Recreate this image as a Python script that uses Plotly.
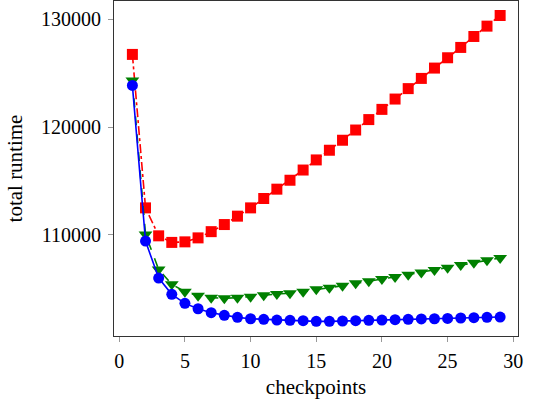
import plotly.graph_objects as go

checkpoints = list(range(1, 30))

red_vals = [126750, 112480, 109880, 109270, 109320, 109690, 110270, 110930, 111710, 112480,
            113350, 114220, 115050, 116000, 116940, 117840, 118770, 119720, 120690, 121640,
            122600, 123570, 124520, 125480, 126440, 127400, 128420, 129380, 130370]

green_vals = [124330, 110010, 106760, 105370, 104690, 104310, 104130, 104070, 104130, 104220,
              104350, 104470, 104540, 104690, 104910, 105060, 105250, 105470, 105650, 105870,
              106060, 106270, 106480, 106700, 106920, 107170, 107380, 107600, 107820]

blue_vals = [123870, 109390, 105950, 104440, 103600, 103100, 102730, 102490, 102300, 102170,
             102120, 102050, 102020, 101990, 101930, 101930, 101960, 101990, 102020, 102050,
             102080, 102120, 102150, 102170, 102200, 102240, 102270, 102300, 102330]

x_ticks = [0, 5, 10, 15, 20, 25, 30]
y_ticks = [110000, 120000, 130000]

FONT = "Liberation Serif"

fig = go.Figure()
fig.add_trace(go.Scatter(
    x=checkpoints, y=red_vals, mode="lines+markers",
    line=dict(color="#ff0000", width=1.6, dash="dashdot"),
    marker=dict(symbol="square", size=11, color="#ff0000"),
    showlegend=False))
fig.add_trace(go.Scatter(
    x=checkpoints, y=green_vals, mode="lines+markers",
    line=dict(color="#008000", width=1.6, dash="dash"),
    marker=dict(symbol="triangle-down", size=12, color="#008000"),
    showlegend=False))
fig.add_trace(go.Scatter(
    x=checkpoints, y=blue_vals, mode="lines+markers",
    line=dict(color="#0000ff", width=1.6),
    marker=dict(symbol="circle", size=11, color="#0000ff"),
    showlegend=False))

fig.update_layout(
    width=538, height=406,
    margin=dict(l=114, r=20, t=1, b=70),
    plot_bgcolor="white", paper_bgcolor="white",
    font=dict(family=FONT, size=20, color="black"),
)
fig.update_xaxes(
    range=[-0.4, 30.36], tickvals=x_ticks, ticks="outside", ticklen=5,
    tickcolor="#999999", showgrid=False, zeroline=False, ticklabelstandoff=2,
    showline=True, linecolor="#333333", linewidth=1, mirror=True,
    title=dict(text="checkpoints", font=dict(family=FONT, size=21), standoff=8),
)
fig.update_yaxes(
    range=[100566, 131718], tickvals=y_ticks, tickformat="d", ticks="outside", ticklen=5,
    tickcolor="#999999", showgrid=False, zeroline=False, ticklabelstandoff=3,
    showline=True, linecolor="#333333", linewidth=1, mirror=True,
    title=dict(text="total runtime", font=dict(family=FONT, size=21), standoff=12),
)

fig.write_html("out.html")
